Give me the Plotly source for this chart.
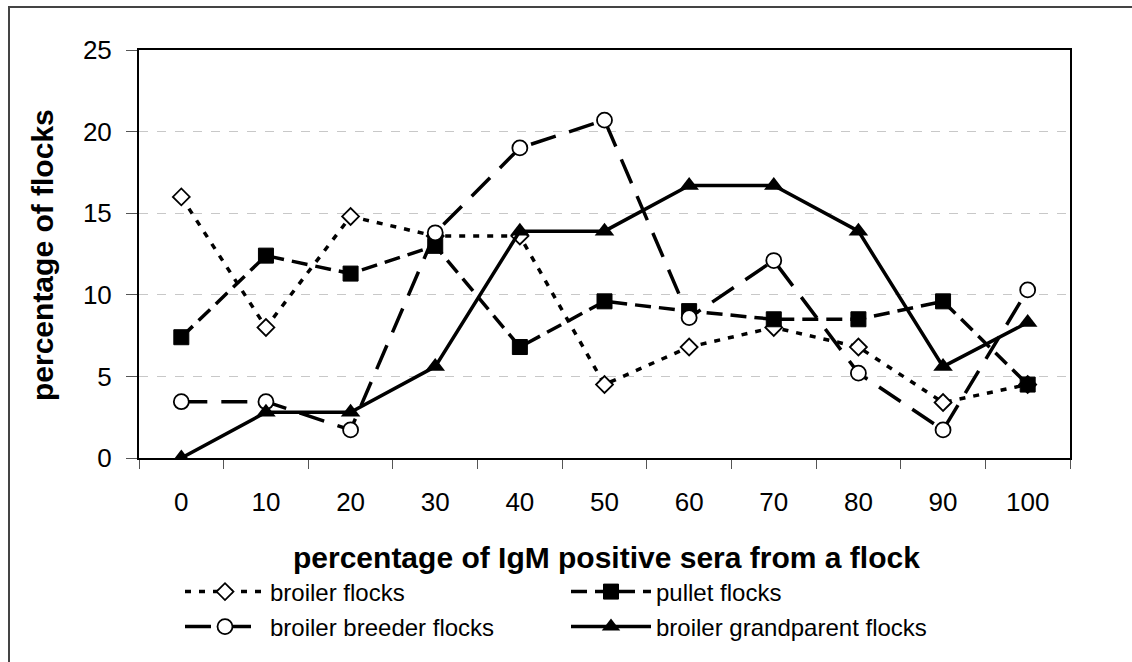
import plotly.graph_objects as go

categories = ["0", "10", "20", "30", "40", "50", "60", "70", "80", "90", "100"]
broiler = [16.0, 8.0, 14.8, 13.6, 13.6, 4.5, 6.8, 8.0, 6.8, 3.4, 4.5]
pullet = [7.4, 12.4, 11.3, 13.0, 6.8, 9.6, 9.0, 8.5, 8.5, 9.6, 4.5]
breeder = [3.45, 3.45, 1.72, 13.8, 19.0, 20.7, 8.6, 12.1, 5.2, 1.72, 10.3]
grandparent = [0.0, 2.8, 2.8, 5.6, 13.9, 13.9, 16.7, 16.7, 13.9, 5.6, 8.3]

W, H = 1132, 662
L, R, T, B = 139, 1070, 50, 458
pw, ph = R - L, B - T

def px(x):
    return (x - L) / pw

def py(y):
    return (B - y) / ph

FONT = "Liberation Sans, Arial, sans-serif"

fig = go.Figure()
fig.add_trace(go.Scatter(
    x=categories, y=broiler, name="broiler flocks", mode="lines+markers",
    line=dict(color="black", width=3.5, dash="6px,8px"),
    marker=dict(symbol="diamond", size=13, color="white", line=dict(color="black", width=1.8)),
    legend="legend"))
fig.add_trace(go.Scatter(
    x=categories, y=pullet, name="pullet flocks", mode="lines+markers",
    line=dict(color="black", width=3.5, dash="16px,8px"),
    marker=dict(symbol="square", size=15, color="black", line=dict(color="black", width=1)),
    legend="legend"))
fig.add_trace(go.Scatter(
    x=categories, y=breeder, name="broiler breeder flocks", mode="lines+markers",
    line=dict(color="black", width=3.5, dash="26px,14px"),
    marker=dict(symbol="circle", size=15, color="white", line=dict(color="black", width=1.8)),
    legend="legend2"))
fig.add_trace(go.Scatter(
    x=categories, y=grandparent, name="broiler grandparent flocks", mode="lines+markers",
    line=dict(color="black", width=3.5),
    marker=dict(symbol="triangle-up", size=17, color="black"),
    legend="legend2"))

leg_common = dict(orientation="h", xanchor="left", yanchor="middle",
                  entrywidth=291, entrywidthmode="pixels", itemwidth=80,
                  font=dict(size=24, family=FONT), bgcolor="rgba(0,0,0,0)")

fig.update_layout(
    width=W, height=H,
    margin=dict(l=L, r=W - R, t=T, b=H - B),
    paper_bgcolor="white", plot_bgcolor="white",
    font=dict(family=FONT, color="black", size=26),
    showlegend=True,
    legend=dict(x=px(180), y=py(592), **leg_common),
    legend2=dict(x=px(180), y=py(627), **leg_common),
    xaxis=dict(type="category", range=[-0.5, len(categories) - 0.5],
               showline=True, linecolor="black", linewidth=2, mirror=True,
               ticks="outside", tickson="boundaries", ticklen=9, tickcolor="#555", tickwidth=1,
               tickfont=dict(size=26), ticklabelstandoff=20, showgrid=False, zeroline=False),
    yaxis=dict(range=[0, 25], dtick=5, showline=True, linecolor="black", linewidth=2, mirror=True,
               ticks="outside", ticklen=11, tickcolor="#555", tickwidth=1, tickfont=dict(size=26),
               ticklabelstandoff=9,
               showgrid=True, gridcolor="#c8c8c8", griddash="dash", gridwidth=1, zeroline=False),
    annotations=[
        dict(text="<b>percentage of flocks</b>", textangle=-90, xref="paper", yref="paper",
             x=px(42), y=py(255), xanchor="center", yanchor="middle", showarrow=False,
             font=dict(size=30, family=FONT)),
        dict(text="<b>percentage of IgM positive sera from a flock</b>", xref="paper", yref="paper",
             x=px(606), y=py(557), xanchor="center", yanchor="middle", showarrow=False,
             font=dict(size=30, family=FONT)),
    ],
    shapes=[
        dict(type="rect", xref="paper", yref="paper", x0=px(9), x1=px(1145), y0=py(680), y1=py(7),
             line=dict(color="#444", width=2), fillcolor="rgba(0,0,0,0)", layer="below"),
    ],
)

fig.write_html("out.html", config={"displayModeBar": False},
               post_script="document.body.style.margin='0';")
